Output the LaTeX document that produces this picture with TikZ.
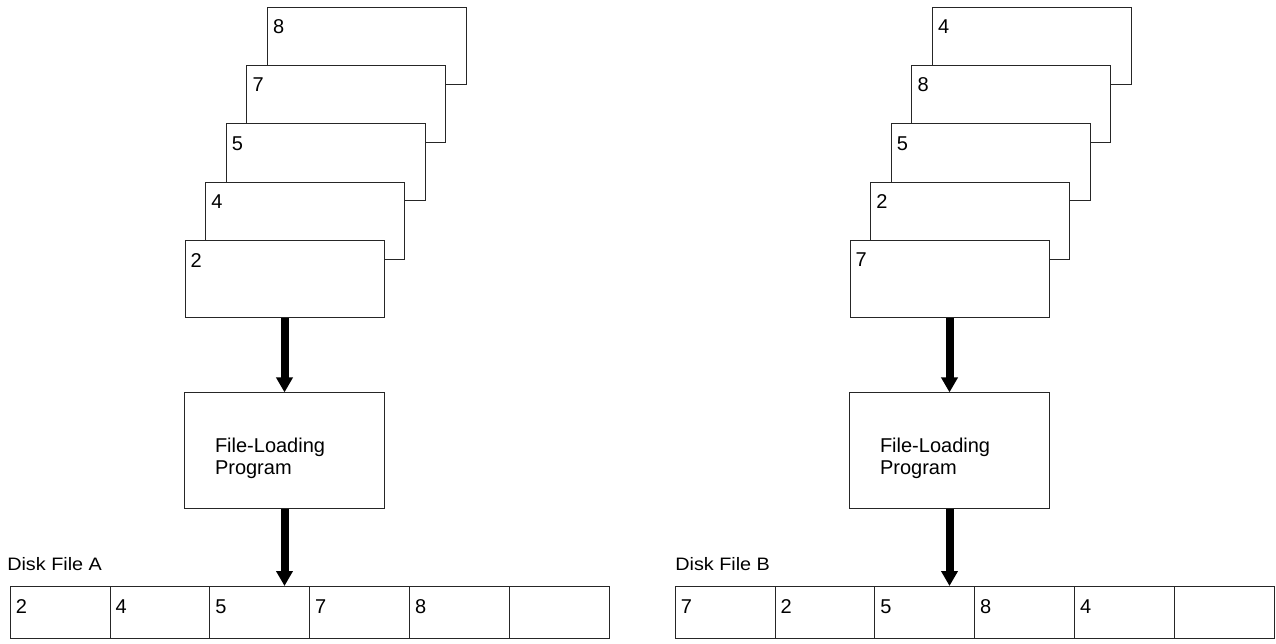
\documentclass[tikz,border=0pt]{standalone}
\usepackage{fontspec}
\setmainfont{Liberation Sans}
\usepackage{graphicx}
\usetikzlibrary{arrows.meta}
\begin{document}
\begin{tikzpicture}[x=1pt,y=-1pt,line width=1pt,
  card/.style={draw=black!85, fill=white, minimum width=199pt, minimum height=77pt, inner sep=0pt},
  num/.style={inner sep=0pt, anchor=north west, font=\fontsize{20}{24}\selectfont},
  prog/.style={draw=black!85, fill=white, minimum width=200pt, minimum height=116pt, inner sep=0pt},
  progtext/.style={inner sep=0pt, anchor=north west, align=left, font=\fontsize{20}{22.5}\selectfont},
  cell/.style={draw=black!85, minimum width=99.8pt, minimum height=52pt, inner sep=0pt},
  disklabel/.style={inner sep=0pt, anchor=base west, font=\fontsize{18}{20}\selectfont},
  feed/.style={line width=8pt, -{Triangle[width=16pt,length=15pt]}},
]
\useasboundingbox (0,0) rectangle (1276,643);

% ---- left: cards in arrival order, back card first ----
\foreach \k/\n in {4/8,3/7,2/5,1/4,0/2}{
  \node[card] (cA\k) at ({284.5+20.6*\k},{279.2-58.4*\k}) {};
  \node[num] (nA\k) at ([xshift=5.7pt,yshift=-12.5pt]cA\k.north west) {\n};
}
\node[prog] (flpA) at (284.5,450.9) {};
\node[progtext] (tA) at ([xshift=30.5pt,yshift=-44.7pt]flpA.north west) {File-Loading\\Program};

\foreach \i/\n in {1/2,2/4,3/5,4/7,5/8,6/{}}{
  \node[cell] (dA\i) at ({10.3+99.8*(\i-0.5)},612.5) {};
  \node[num] (mA\i) at ([xshift=5.5pt,yshift=-13pt]dA\i.north west) {\n};
}
\node[disklabel] (labA) at ([xshift=-3pt,yshift=15.5pt]dA1.north west) {\scalebox{1.1}[1]{Disk File A}};

\draw[feed] (cA0.south) -- (flpA.north);
\draw[feed] (flpA.south) -- (flpA.south |- dA3.north);

% ---- right: cards in arrival order, back card first ----
\foreach \k/\n in {4/4,3/8,2/5,1/2,0/7}{
  \node[card] (cB\k) at ({949.5+20.6*\k},{279.2-58.4*\k}) {};
  \node[num] (nB\k) at ([xshift=5.7pt,yshift=-12.5pt]cB\k.north west) {\n};
}
\node[prog] (flpB) at (949.5,450.9) {};
\node[progtext] (tB) at ([xshift=30.5pt,yshift=-44.7pt]flpB.north west) {File-Loading\\Program};

\foreach \i/\n in {1/7,2/2,3/5,4/8,5/4,6/{}}{
  \node[cell] (dB\i) at ({675.3+99.8*(\i-0.5)},612.5) {};
  \node[num] (mB\i) at ([xshift=5.5pt,yshift=-13pt]dB\i.north west) {\n};
}
\node[disklabel] (labB) at ([xshift=0pt,yshift=15.5pt]dB1.north west) {\scalebox{1.1}[1]{Disk File B}};

\draw[feed] (cB0.south) -- (flpB.north);
\draw[feed] (flpB.south) -- (flpB.south |- dB3.north);
\end{tikzpicture}
\end{document}
